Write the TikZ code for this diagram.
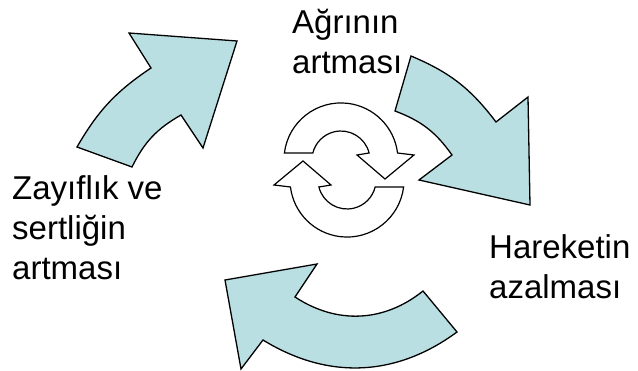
\documentclass[tikz,border=0pt]{standalone}
\usepackage{fontspec}
\setmainfont{Liberation Sans}
\definecolor{arrowfill}{RGB}{185,223,227}
\begin{document}
\begin{tikzpicture}[x=1pt,y=-1pt,
  bigarrow/.style={fill=arrowfill, draw=black, line width=1.3pt, line join=miter},
  cyclearrow/.style={fill=white, draw=black, line width=1.2pt},
  txt/.style={font=\fontsize{33}{40}\selectfont, align=left, inner sep=0pt, anchor=base west}]
\useasboundingbox (0,0) rectangle (638,371);
% big cycle arrows
\draw[bigarrow] (77,147) -- (132,167) to[bend left=17] (181,115) -- (203,148) -- (237,41) -- (129,33) -- (151,68) to[bend right=13] (77,147) -- cycle;
\draw[bigarrow] (411,56) to[bend left=15] (496,122) -- (528,97) -- (530,205) -- (419,180) -- (452,155) to[bend right=17] (395,111) -- cycle;
\draw[bigarrow] (423,291) to[bend left=36] (295,297) -- (317,264) -- (225,280) -- (241,369) -- (263,340) to[bend right=34] (457,332) -- cycle;
% central icon
\draw[cyclearrow] (284.4,153) arc[start angle=187, end angle=353, radius=57] -- (414,155) -- (385,179) -- (357,155) -- (369.1,153) arc[start angle=346, end angle=194, radius=29] -- cycle;
\draw[cyclearrow] (403.6,187) arc[start angle=7, end angle=173, radius=57] -- (274,185) -- (303,161) -- (331,185) -- (318.9,187) arc[start angle=166, end angle=14, radius=29] -- cycle;
% labels (anchor = baseline of last line)
\node[txt] (top) at (292,74) {Ağrının\\artması};
\node[txt] (left) at (12,280) {Zayıflık ve\\sertliğin\\artması};
\node[txt] (right) at (489,299) {Hareketin\\azalması};
\end{tikzpicture}
\end{document}
